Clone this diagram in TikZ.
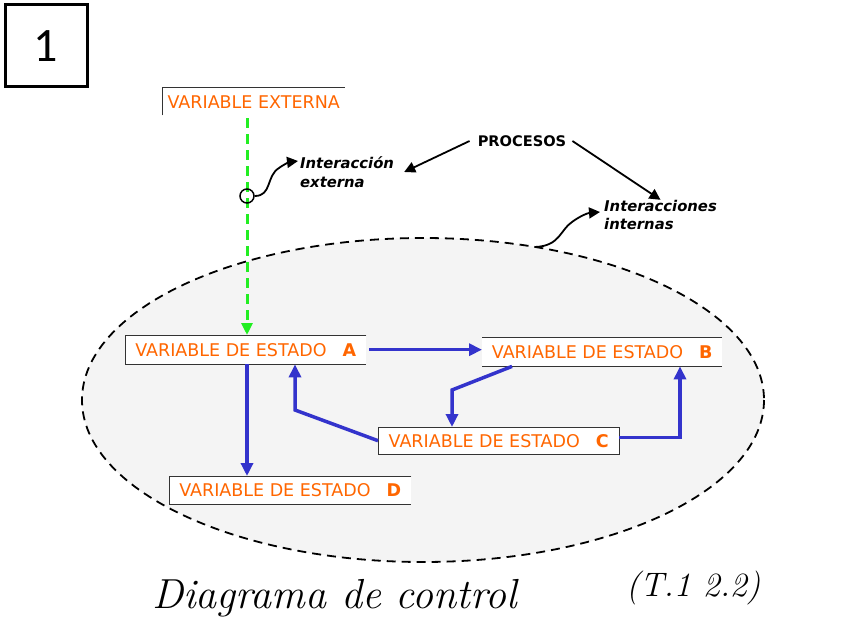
\documentclass[tikz,border=0pt]{standalone}
\usepackage{fontspec}
\newfontfamily\vfont{DejaVu Sans}
\newfontfamily\numfont{Carlito}
\usetikzlibrary{arrows.meta}
\definecolor{orng}{HTML}{FF6600}
\definecolor{bblue}{HTML}{3333CC}
\definecolor{ggreen}{HTML}{22EE22}
\definecolor{ellfill}{HTML}{F4F4F4}
\begin{document}
\begin{tikzpicture}[x=1pt,y=-1pt,
  lbl/.style={font=\vfont\fontsize{17.5}{20}\selectfont, text=orng, fill=white, inner sep=0pt},
  sbox/.style={lbl, minimum width=241pt, minimum height=29pt, anchor=north west},
  edge/.style={draw=black!80, line width=1pt},
  barrow/.style={draw=bblue, line width=3.5pt, -{Triangle[length=13pt,width=12pt]}},
  karrow/.style={draw=black, line width=1.8pt, -{Triangle[length=11pt,width=11pt]}},
  note/.style={font=\vfont\bfseries\itshape\fontsize{14.8}{18.5}\selectfont, align=left, inner sep=0pt}
]
\useasboundingbox (0,0) rectangle (848,636);
% ellipse
\draw[fill=ellfill, draw=black, line width=1.8pt, dash pattern=on 9pt off 6pt] (423,400) ellipse [x radius=341, y radius=162];
\coordinate (etop) at (535,247);
% box 1
\node[draw, line width=3pt, minimum size=82pt, inner sep=0pt, font=\numfont\fontsize{48}{50}\selectfont] (num) at (46,46) {1};
% variable externa
\node[lbl, anchor=north west, minimum width=183pt, minimum height=27pt, inner xsep=5pt] (vext) at (162,88) {VARIABLE EXTERNA};
\draw[edge] (vext.south west) -- (vext.north west) -- (vext.north east);
% state boxes
\node[sbox] (A) at (125,335) {VARIABLE DE ESTADO\hspace{16pt}\textbf{A}};
\node[sbox, minimum width=240pt] (B) at (482,337) {VARIABLE DE ESTADO\hspace{16pt}\textbf{B}};
\node[sbox, minimum height=27pt] (C) at (378,427) {VARIABLE DE ESTADO\hspace{16pt}\textbf{C}};
\node[sbox, minimum width=242pt, minimum height=28pt] (D) at (169,476) {VARIABLE DE ESTADO\hspace{16pt}\textbf{D}};
\draw[edge] (A.north east) -- (A.north west) -- (A.south west) -- (A.south east);
\draw[edge] (B.north west) -- (B.north east);
\draw[edge] (B.south west) -- (B.south east);
\draw[edge] (C.north west) rectangle (C.south east);
\draw[edge] (D.north east) -- (D.north west) -- (D.south west) -- (D.south east);
% green external interaction
\draw[draw=ggreen, line width=3pt, dash pattern=on 10pt off 6pt, -{Triangle[length=12pt,width=11pt]}] ([xshift=85pt,yshift=-3pt]vext.south west) -- ([xshift=122pt]A.north west);
\node[draw, circle, line width=1.5pt, minimum size=14pt, inner sep=0pt] (circ) at (247,196) {};
% notes
\node[note, anchor=west] (iext) at (300,172) {Interacción\\externa};
\node[font=\vfont\bfseries\fontsize{14.6}{17}\selectfont, inner sep=0pt] (proc) at (522,141) {PROCESOS};
\node[note, anchor=west] (iint) at (604,215) {Interacciones\\internas};
\draw[karrow] ([xshift=-8pt]proc.west) -- ([xshift=10pt]iext.east);
\draw[karrow] ([xshift=6pt]proc.east) -- (iint.north);
\draw[karrow] (circ.east) .. controls (272,196) and (266,176) .. (279,168) .. controls (286,163) and (290,162) .. ([yshift=11pt,xshift=-2pt]iext.west);
\draw[karrow] (etop) .. controls (560,246) and (560,230) .. (572,222) .. controls (580,216) and (588,213) .. ([yshift=3pt,xshift=-4pt]iint.west);
% blue interactions
\draw[barrow] ([xshift=3pt]A.east) -- (A.east -| B.west);
\draw[barrow] ([xshift=122pt]A.south west) -- ([xshift=78pt]D.north west);
\draw[barrow] ([xshift=30pt]B.south west) -- (452,390) -- ([xshift=74pt]C.north west);
\draw[barrow] (C.west) -- (295,410) -- ([xshift=170pt]A.south west);
\draw[barrow] ([yshift=3pt]C.east) -| ([xshift=198pt]B.south west);
% handwritten captions
\node[font=\itshape\fontsize{42}{46}\selectfont, anchor=west, inner sep=0pt] (title) at (152,598) {Diagrama de control};
\node[font=\itshape\fontsize{34}{40}\selectfont, anchor=west, inner sep=0pt] (tref) at (626,588) {(T.1\hspace{12pt}2.2)};
\end{tikzpicture}
\end{document}
